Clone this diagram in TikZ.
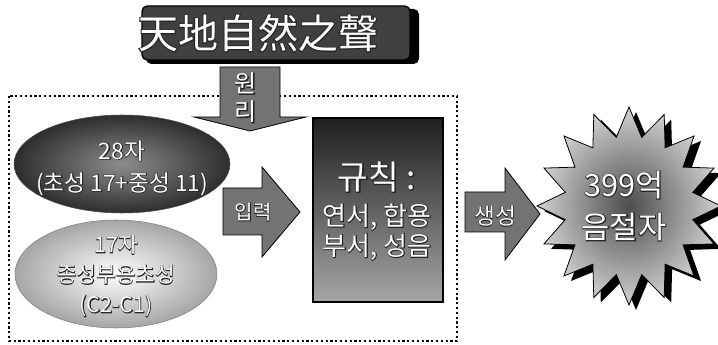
\documentclass[tikz,border=0pt]{standalone}
\usepackage{fontspec}
\setmainfont{Noto Sans CJK KR}
\newfontfamily\outlfont[FakeBold=5]{Noto Sans CJK KR}
\usetikzlibrary{shapes.geometric}
\newcommand{\olbl}[5]{%
  \node[lbl, text=black!85, font={\outlfont\fontsize{#3}{#4}\selectfont}] at #2 {#5};
  \node[lbl, text=white, font={\fontsize{#3}{#4}\selectfont}] (#1) at #2 {#5};}
\begin{document}
\begin{tikzpicture}[x=0.75pt,y=-0.75pt,
  lbl/.style={align=center, inner sep=0pt},
  arrowshape/.style={fill=black!55, draw=black, line width=0.6pt},
]
\useasboundingbox (0,0) rectangle (718,345);

% title box
\fill[black, rounded corners=4pt] (146,9) rectangle (419,64);
\node[draw=black, line width=1pt, fill=black!75, rounded corners=4pt,
      minimum width=201pt, minimum height=40.5pt] (titlebox) at (276,33) {};
\olbl{title}{(258,33)}{30}{30}{天地自然之聲}

% dotted frame
\draw[dotted, line width=1.6pt] (9,96) rectangle (457,341);

% ellipses
\node[ellipse, draw=black!70, inner color=black!45, outer color=black!82,
      minimum width=162pt, minimum height=73.5pt] (e1) at (122,164) {};
\olbl{e1text}{(122,168)}{17}{24}{28자\\(초성 17+중성 11)}
\node[ellipse, draw=black!50, inner color=white, outer color=black!35,
      minimum width=151.5pt, minimum height=81pt] (e2) at (116,274) {};
\olbl{e2text}{(116,276)}{16}{22.5}{17자\\종성부용초성\\(C2-C1)}

% rules box
\node[draw=black, line width=0.8pt, top color=black!88, bottom color=black!35,
      minimum width=97.5pt, minimum height=138pt] (rules) at (378,210) {};
\olbl{rulestitle}{(377,177)}{25}{25}{규칙 :}
\olbl{rulestext}{(377,232)}{19.5}{22.5}{연서, 합용\\부서, 성음}

% down arrow
\draw[arrowshape] (220,67) -- (280,67) -- (280,117) -- (306,117) -- (250,131)
  -- (194,117) -- (220,117) -- cycle;
\olbl{wonri}{(246,98)}{18}{21}{원\\리}

% input arrow
\draw[arrowshape] (223,188) -- (262,188) -- (262,167) -- (300,212) -- (262,257)
  -- (262,235) -- (223,235) -- cycle;
\olbl{input}{(253,212)}{15}{15}{입력}

% generate arrow
\draw[arrowshape] (465,192) -- (505,192) -- (505,168) -- (540,214) -- (505,260)
  -- (505,232) -- (465,232) -- cycle;
\olbl{gen}{(495,216)}{17}{17}{생성}

% starburst
\coordinate (star) at (629,206);
\fill[black] ({636+92*cos(90)},{211-99*sin(90)})
  \foreach \i in {1,...,31}{ -- ({636+(isodd(\i)?65:92)*cos(90+\i*11.25)},{211-(isodd(\i)?70:99)*sin(90+\i*11.25)}) } -- cycle;
\shade[inner color=black!70, outer color=black!18, draw=black, line width=0.6pt]
  ({629+92*cos(90)},{206-99*sin(90)})
  \foreach \i in {1,...,31}{ -- ({629+(isodd(\i)?65:92)*cos(90+\i*11.25)},{206-(isodd(\i)?70:99)*sin(90+\i*11.25)}) } -- cycle;
\olbl{startext}{(624,206)}{23}{31.5}{399억\\음절자}
\end{tikzpicture}
\end{document}
